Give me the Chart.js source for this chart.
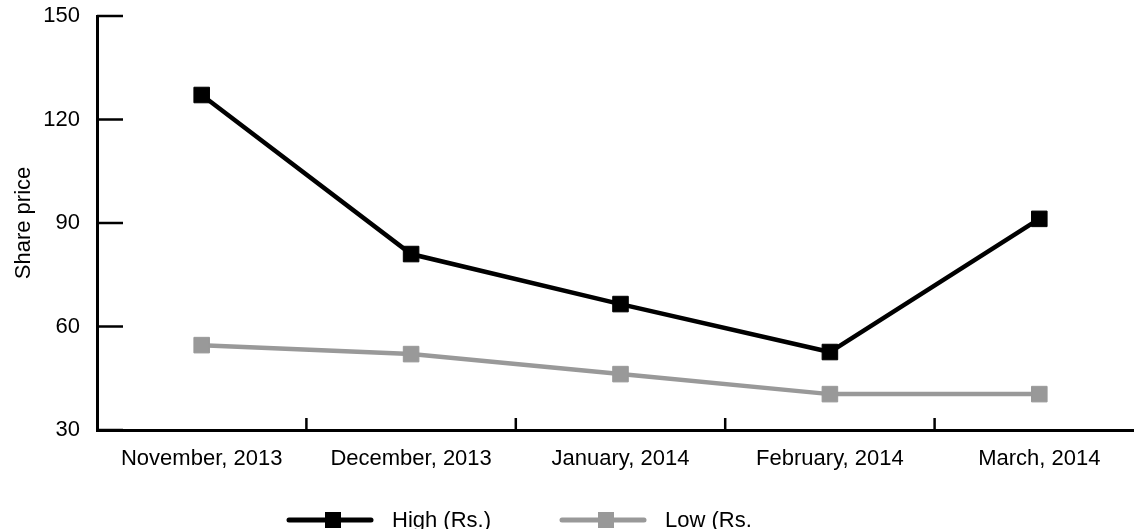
<!DOCTYPE html>
<html>
<head>
<meta charset="utf-8">
<script src="https://cdn.jsdelivr.net/npm/chart.js@4.4.0/dist/chart.umd.min.js"></script>
<style>
  html, body { margin: 0; padding: 0; background: #fff; overflow: hidden; }
  #wrap { width: 1156px; height: 529px; position: relative; }
</style>
</head>
<body>
<div id="wrap"><canvas id="myChart"></canvas></div>
<script>
var months = ['November, 2013', 'December, 2013', 'January, 2014', 'February, 2014', 'March, 2014'];
var highValues = [127.1, 81.0, 66.5, 52.6, 91.2];
var lowValues = [54.6, 52.0, 46.2, 40.4, 40.4];
var yTicks = [30, 60, 90, 120, 150];

var fontFamily = '"Liberation Sans", Arial, sans-serif';

// inward ticks on both axes + custom legend under the chart
var extras = {
    id: 'extras',
    afterDraw: function (chart) {
        var ctx = chart.ctx;
        var xs = chart.scales.x, ys = chart.scales.y;
        var area = chart.chartArea;
        ctx.save();
        ctx.strokeStyle = '#000';
        ctx.lineWidth = 2.5;
        yTicks.forEach(function (v) {
            var py = ys.getPixelForValue(v);
            ctx.beginPath();
            ctx.moveTo(area.left, py);
            ctx.lineTo(area.left + 26, py);
            ctx.stroke();
        });
        for (var i = 0; i < months.length - 1; i++) {
            var px = (xs.getPixelForValue(i) + xs.getPixelForValue(i + 1)) / 2;
            ctx.beginPath();
            ctx.moveTo(px, area.bottom);
            ctx.lineTo(px, area.bottom - 12);
            ctx.stroke();
        }

        // legend
        var items = [
            {x: 289, text: 'High (Rs.)', ds: chart.data.datasets[0]},
            {x: 562, text: 'Low (Rs.', ds: chart.data.datasets[1]}
        ];
        var ly = 520;
        ctx.font = '22px ' + fontFamily;
        ctx.textBaseline = 'alphabetic';
        items.forEach(function (it) {
            ctx.strokeStyle = it.ds.borderColor;
            ctx.lineWidth = 5;
            ctx.lineCap = 'round';
            ctx.beginPath();
            ctx.moveTo(it.x, ly);
            ctx.lineTo(it.x + 82, ly);
            ctx.stroke();
            ctx.fillStyle = it.ds.borderColor;
            ctx.fillRect(it.x + 36, ly - 8, 16, 16);
            ctx.fillStyle = '#000';
            ctx.fillText(it.text, it.x + 103, 527);
        });
        ctx.restore();
    }
};

new Chart(document.getElementById('myChart').getContext('2d'), {
    type: 'line',
    data: {
        labels: months,
        datasets: [{
            label: 'High (Rs.)',
            data: highValues,
            borderColor: '#000000',
            backgroundColor: '#000000',
            borderWidth: 4.5,
            pointStyle: 'rect',
            pointRadius: 11,
            pointBorderWidth: 1,
            tension: 0
        }, {
            label: 'Low (Rs.',
            data: lowValues,
            borderColor: '#999999',
            backgroundColor: '#999999',
            borderWidth: 4.5,
            pointStyle: 'rect',
            pointRadius: 11,
            pointBorderWidth: 1,
            tension: 0
        }]
    },
    options: {
        responsive: true,
        maintainAspectRatio: false,
        animation: false,
        layout: {padding: {top: 16, right: 3, left: 0, bottom: 0}},
        plugins: {legend: {display: false}, tooltip: {enabled: false}},
        scales: {
            x: {
                offset: true,
                grid: {display: false},
                border: {display: true, color: '#000', width: 3},
                ticks: {color: '#000', padding: 8, maxRotation: 0, autoSkip: false,
                    font: {family: fontFamily, size: 22}},
                afterFit: function (scale) {
                    scale.height = 99;
                    scale.paddingLeft = 0;
                    scale.paddingRight = 0;
                }
            },
            y: {
                min: 30,
                max: 150,
                grid: {display: false},
                border: {display: true, color: '#000', width: 3},
                afterBuildTicks: function (scale) {
                    scale.ticks = yTicks.map(function (v) { return {value: v}; });
                },
                ticks: {color: '#000', padding: 9, font: {family: fontFamily, size: 22}},
                title: {display: true, text: 'Share price', color: '#000', padding: {top: 11, bottom: 0},
                    font: {family: fontFamily, size: 22}},
                afterFit: function (scale) {
                    scale.width = 97;
                    scale.paddingTop = 0;
                    scale.paddingBottom = 0;
                }
            }
        }
    },
    plugins: [extras]
});
</script>
</body>
</html>
